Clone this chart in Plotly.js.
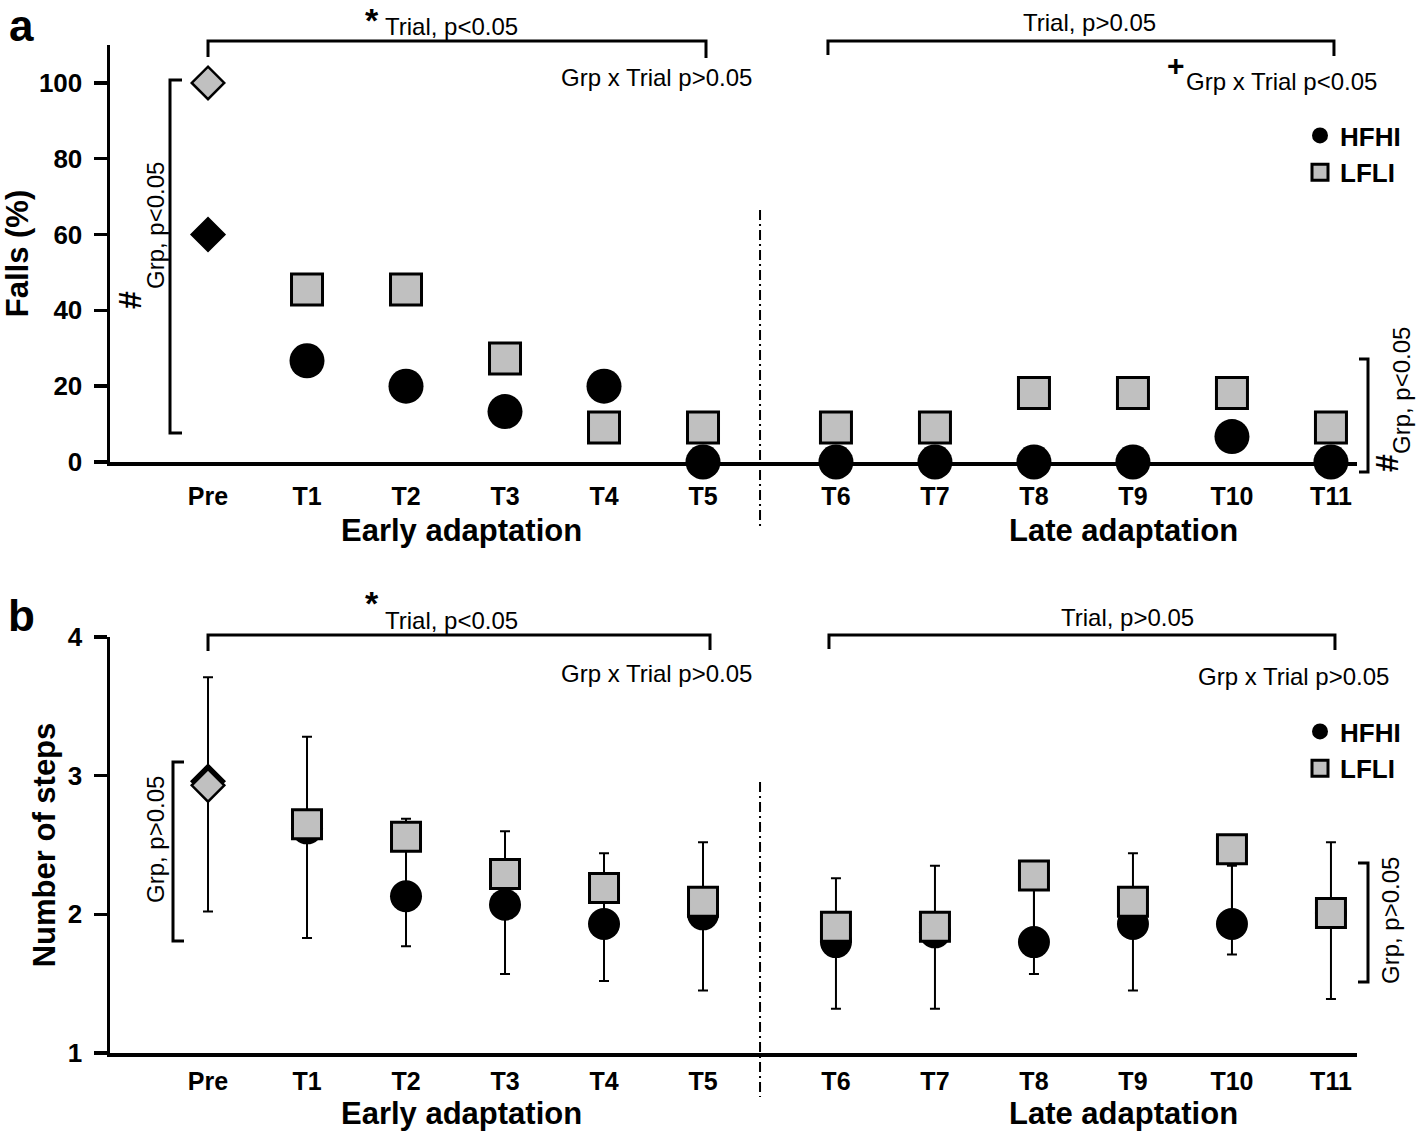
<!DOCTYPE html>
<html><head><meta charset="utf-8">
<script src="https://cdn.plot.ly/plotly-3.0.1.min.js"></script>
<style>html,body{margin:0;padding:0;background:#fff}#chart{width:1418px;height:1131px}</style>
</head><body><div id="chart"></div>
<script>
// ---------- data ----------
const trials = ['Pre','T1','T2','T3','T4','T5','T6','T7','T8','T9','T10','T11'];
// panel a: falls (%)
const fallsHFHI = [60, 26.7, 20, 13.3, 20, 0, 0, 0, 0, 0, 6.7, 0];
const fallsLFLI = [100, 45.5, 45.5, 27.3, 9.1, 9.1, 9.1, 9.1, 18.2, 18.2, 18.2, 9.1];
// panel b: number of steps (mean and one-sided SD)
const stepsHFHI = [2.96, 2.62, 2.13, 2.07, 1.93, 2.00, 1.80, 1.87, 1.80, 1.93, 1.93, 2.01];
const stepsHFHIsdUp = [0.75, 0.66, 0.56, 0.53, 0.51, 0.52, 0.46, 0.48, 0.40, 0.51, 0.42, 0.51];
const stepsLFLI = [2.93, 2.65, 2.56, 2.29, 2.19, 2.09, 1.91, 1.91, 2.28, 2.09, 2.47, 2.01];
const stepsLFLIsdDown = [0.91, 0.82, 0.79, 0.72, 0.67, 0.64, 0.59, 0.59, 0.71, 0.64, 0.76, 0.62];
const groupNames = ['HFHI', 'LFLI'];
const fallsTicks = [0, 20, 40, 60, 80, 100];
const stepsTicks = [1, 2, 3, 4];

// ---------- layout helpers ----------
const W = 1418, H = 1131, ML = 110, MR = 61;
const PW = W - ML - MR;
const lateGap = 0.343;                 // extra spacing between early and late blocks
const xPos = trials.map((t, i) => i <= 5 ? i : i + lateGap);
const xRange = [-0.99, 11.606];
const dividerX = 5.576;
function px(x) { return (x - ML) / PW; }
function py(y) { return 1 - y / H; }
function dataPx(v) { return ML + (v - xRange[0]) / (xRange[1] - xRange[0]) * PW; }
function catPx(i) { return dataPx(xPos[i]); }

const FONT = 'Arial, "Liberation Sans", sans-serif';
const gray = '#c0c0c0';
const zeros = trials.map(() => 0);

function mk(sym, size, color, lw) {
  return {symbol: sym, size: size, color: color, line: {color: 'black', width: lw}};
}

const traces = [];
// ---- panel a ----
traces.push({x: [xPos[0]], y: [fallsHFHI[0]], xaxis: 'x', yaxis: 'y', mode: 'markers', showlegend: false,
  marker: mk('diamond', 25, 'black', 2.5), cliponaxis: false, hoverinfo: 'skip'});
traces.push({x: xPos.slice(1), y: fallsHFHI.slice(1), xaxis: 'x', yaxis: 'y', mode: 'markers', name: groupNames[0],
  legend: 'legend', marker: mk('circle', 35, 'black', 0), cliponaxis: false});
traces.push({x: [xPos[0]], y: [fallsLFLI[0]], xaxis: 'x', yaxis: 'y', mode: 'markers', showlegend: false,
  marker: mk('diamond', 25, gray, 2.5), cliponaxis: false, hoverinfo: 'skip'});
traces.push({x: xPos.slice(1), y: fallsLFLI.slice(1), xaxis: 'x', yaxis: 'y', mode: 'markers', name: groupNames[1],
  legend: 'legend', marker: mk('square', 31, gray, 3), cliponaxis: false});

// ---- panel b ----
const errH = (i0, i1) => ({type: 'data', symmetric: false, array: stepsHFHIsdUp.slice(i0, i1), arrayminus: zeros.slice(i0, i1),
  color: 'black', thickness: 2, width: 5});
const errL = (i0, i1) => ({type: 'data', symmetric: false, array: zeros.slice(i0, i1), arrayminus: stepsLFLIsdDown.slice(i0, i1),
  color: 'black', thickness: 2, width: 5});
traces.push({x: [xPos[0]], y: [stepsHFHI[0]], xaxis: 'x2', yaxis: 'y2', mode: 'markers', showlegend: false,
  marker: mk('diamond', 25, 'black', 2.5), error_y: errH(0, 1), cliponaxis: false, hoverinfo: 'skip'});
traces.push({x: xPos.slice(1), y: stepsHFHI.slice(1), xaxis: 'x2', yaxis: 'y2', mode: 'markers', name: groupNames[0],
  legend: 'legend2', marker: mk('circle', 32, 'black', 0), error_y: errH(1), cliponaxis: false});
traces.push({x: [xPos[0]], y: [stepsLFLI[0]], xaxis: 'x2', yaxis: 'y2', mode: 'markers', showlegend: false,
  marker: mk('diamond', 25, gray, 2.5), error_y: errL(0, 1), cliponaxis: false, hoverinfo: 'skip'});
traces.push({x: xPos.slice(1), y: stepsLFLI.slice(1), xaxis: 'x2', yaxis: 'y2', mode: 'markers', name: groupNames[1],
  legend: 'legend2', marker: mk('square', 29, gray, 3), error_y: errL(1), cliponaxis: false});

// ---------- axes ----------
function xAxis(anchor, standoff) {
  return {domain: [0, 1], range: xRange, anchor: anchor, showgrid: false, zeroline: false,
    showline: true, linecolor: 'black', linewidth: 3.5, ticks: '',
    tickvals: xPos, ticktext: trials, ticklabelstandoff: standoff,
    tickfont: {family: FONT, size: 25, color: 'black', weight: 'bold'}, fixedrange: true};
}
function yAxis(anchor, domain, range, tickvals, title, standoff) {
  return {domain: domain, range: range, anchor: anchor, showgrid: false, zeroline: false,
    showline: true, linecolor: 'black', linewidth: 3.5, ticks: 'outside', ticklen: 13, tickwidth: 3.5,
    tickcolor: 'black', tickvals: tickvals, ticklabelstandoff: 6,
    tickfont: {family: FONT, size: 26, color: 'black', weight: 'bold'},
    title: {text: title, font: {family: FONT, size: 31, color: 'black', weight: 'bold'}, standoff: standoff},
    automargin: false, fixedrange: true};
}

// ---------- annotations ----------
const anns = [];
function txt(text, x, y, opt) {
  opt = opt || {};
  anns.push({xref: 'paper', yref: 'paper', x: px(x), y: py(y), text: text, showarrow: false,
    xanchor: opt.xanchor || 'center', yanchor: opt.yanchor || 'middle', textangle: opt.angle || 0,
    borderpad: 0,
    font: {family: FONT, size: opt.size || 24, color: 'black', weight: opt.bold ? 'bold' : 'normal'}});
}
// panel a
txt('a', 21, 0, {size: 44, bold: true, yanchor: 'top'});
txt('*', 372, 0, {size: 34, bold: true, yanchor: 'top'});
txt('Trial, p&lt;0.05', 384, 27, {xanchor: 'left'});
txt('Grp x Trial p&gt;0.05', 753, 77, {xanchor: 'right'});
txt('Trial, p&gt;0.05', 1089, 22);
txt('+', 1176, 66, {size: 30, bold: true});
txt('Grp x Trial p&lt;0.05', 1185, 82, {xanchor: 'left'});
txt('#', 130, 300, {size: 32, bold: true, angle: -90});
txt('Grp, p&lt;0.05', 155, 226, {angle: -90});
txt('#', 1387, 463, {size: 32, bold: true, angle: -90});
txt('Grp, p&lt;0.05', 1402, 391, {angle: -90});
txt('Early adaptation', 461, 530, {size: 31, bold: true});
txt('Late adaptation', 1123, 530, {size: 31, bold: true});
// panel b
txt('b', 21, 615, {size: 44, bold: true});
txt('*', 372, 603, {size: 34, bold: true});
txt('Trial, p&lt;0.05', 384, 620, {xanchor: 'left'});
txt('Grp x Trial p&gt;0.05', 753, 673, {xanchor: 'right'});
txt('Trial, p&gt;0.05', 1127, 617);
txt('Grp x Trial p&gt;0.05', 1390, 676, {xanchor: 'right'});
txt('Grp, p&gt;0.05', 155, 840, {angle: -90});
txt('Grp, p&gt;0.05', 1390, 921, {angle: -90});
txt('Early adaptation', 461, 1113, {size: 31, bold: true});
txt('Late adaptation', 1123, 1113, {size: 31, bold: true});

// ---------- shapes (brackets, dividers) ----------
const shapes = [];
function pathShape(pts, dash, width) {
  const d = pts.map((p, k) => (k ? 'L' : 'M') + px(p[0]).toFixed(5) + ',' + py(p[1]).toFixed(5)).join(' ');
  shapes.push({type: 'path', xref: 'paper', yref: 'paper', path: d,
    line: {color: 'black', width: width || 3, dash: dash || 'solid'}});
}
const preX = catPx(0), t5X = catPx(5), t6X = catPx(6), t11X = catPx(11), divX = dataPx(dividerX);
// panel a
pathShape([[preX, 57], [preX, 41], [t5X + 3, 41], [t5X + 3, 58]]);
pathShape([[t6X - 8, 55], [t6X - 8, 41], [t11X + 3, 41], [t11X + 3, 56]]);
pathShape([[182, 80], [170, 80], [170, 433], [182, 433]]);
pathShape([[1359, 359], [1368, 359], [1368, 472], [1359, 472]]);
pathShape([[divX, 210], [divX, 527]], '10px,4px,2px,4px', 2);
// panel b
pathShape([[preX, 651], [preX, 635], [t5X + 7, 635], [t5X + 7, 650]]);
pathShape([[t6X - 7, 649], [t6X - 7, 635], [t11X + 4, 635], [t11X + 4, 650]]);
pathShape([[184, 762], [173, 762], [173, 941], [184, 941]]);
pathShape([[1358, 863], [1368, 863], [1368, 982], [1358, 982]]);
pathShape([[divX, 782], [divX, 1097]], '10px,4px,2px,4px', 2);

const legendFont = {family: FONT, size: 26, color: 'black', weight: 'bold'};
const layout = {
  width: W, height: H, margin: {l: ML, r: MR, t: 0, b: 0},
  paper_bgcolor: 'white', plot_bgcolor: 'white',
  font: {family: FONT, color: 'black'},
  xaxis: xAxis('y', 9),
  yaxis: yAxis('x', [py(462), py(45)], [0, 110], fallsTicks, 'Falls (%)', 4),
  xaxis2: xAxis('y2', 3),
  yaxis2: yAxis('x2', [py(1053), py(637)], [1, 4], stepsTicks, 'Number of steps', 4),
  legend: {x: px(1300), y: py(112), xanchor: 'left', yanchor: 'top', font: legendFont,
    bgcolor: 'rgba(0,0,0,0)', borderwidth: 0, tracegroupgap: 0},
  legend2: {x: px(1300), y: py(708), xanchor: 'left', yanchor: 'top', font: legendFont,
    bgcolor: 'rgba(0,0,0,0)', borderwidth: 0, tracegroupgap: 0},
  annotations: anns,
  shapes: shapes,
  showlegend: true
};

Plotly.newPlot('chart', traces, layout, {staticPlot: true, displayModeBar: false});
</script></body></html>
